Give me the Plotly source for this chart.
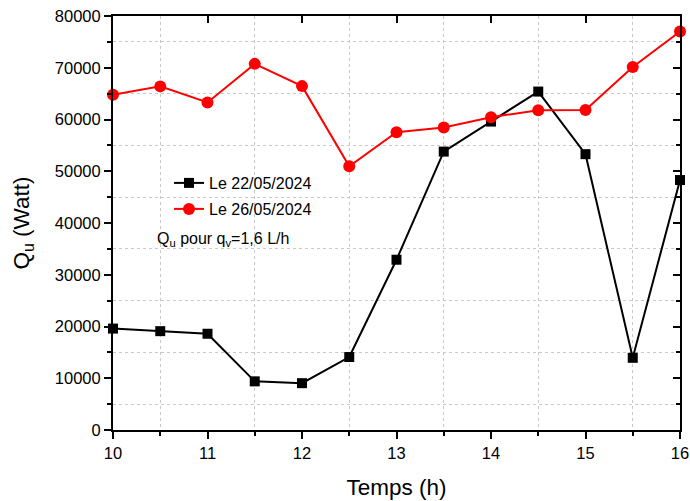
import plotly.graph_objects as go

hours = [10, 10.5, 11, 11.5, 12, 12.5, 13, 13.5, 14, 14.5, 15, 15.5, 16]
q_2205 = [19600, 19100, 18600, 9400, 9050, 14100, 32900, 53800, 59600, 65400, 53300, 13950, 48300]
q_2605 = [64800, 66400, 63300, 70750, 66450, 50950, 57550, 58450, 60450, 61800, 61850, 70150, 77000]
name_2205 = "Le 22/05/2024"
name_2605 = "Le 26/05/2024"
note = "Q<sub>u</sub> pour q<sub>v</sub>=1,6 L/h"
x_title = "Temps (h)"
y_title = "Q<sub>u</sub> (Watt)"

FONT = "Liberation Sans, Arial, sans-serif"
W, H = 690, 501
ML, MR, MT, MB = 113, 10, 16, 71
PW, PH = W - ML - MR, H - MT - MB


def px_x(p):
    return (p - ML) / PW


def px_y(p):
    return (H - MB - p) / PH


fig = go.Figure()
fig.add_trace(go.Scatter(
    x=hours, y=q_2205, name=name_2205, mode="lines+markers",
    line=dict(color="black", width=2),
    marker=dict(symbol="square", size=10, color="black"),
    legend="legend", cliponaxis=False,
))
fig.add_trace(go.Scatter(
    x=hours, y=q_2605, name=name_2605, mode="lines+markers",
    line=dict(color="#ff0000", width=2),
    marker=dict(symbol="circle", size=12, color="#ff0000"),
    legend="legend2", cliponaxis=False,
))
# invisible trace to anchor mirror axes
fig.add_trace(go.Scatter(x=[hours[0]], y=[q_2205[0]], xaxis="x2", yaxis="y2",
                         mode="markers", marker=dict(opacity=0), showlegend=False,
                         hoverinfo="skip"))

grid = dict(showgrid=True, gridcolor="#c8c8c8", griddash="dot", gridwidth=1)

fig.update_layout(
    width=W, height=H,
    margin=dict(l=ML, r=MR, t=MT, b=MB, autoexpand=False),
    paper_bgcolor="white", plot_bgcolor="white",
    font=dict(family=FONT, color="black", size=17),
    xaxis=dict(
        range=[10, 16], dtick=1, tick0=10, showgrid=False, zeroline=False,
        automargin=False,
        showline=True, linecolor="black", linewidth=2, mirror=True,
        ticks="outside", ticklen=7, tickwidth=1.5, tickcolor="black",
        tickfont=dict(size=16.5),
        minor=dict(dtick=0.5, ticks="outside", ticklen=4, tickwidth=1.5,
                   tickcolor="black", **grid),
        title=dict(text=x_title, font=dict(size=22.5), standoff=18),
    ),
    yaxis=dict(
        range=[0, 80000], dtick=10000, showgrid=False, zeroline=False,
        automargin=False, tickformat="d",
        showline=True, linecolor="black", linewidth=2, mirror=True,
        ticks="outside", ticklen=7, tickwidth=1.5, tickcolor="black",
        tickfont=dict(size=16.5),
        minor=dict(dtick=5000, ticks="outside", ticklen=4, tickwidth=1.5,
                   tickcolor="black", **grid),
        title=dict(text=y_title, font=dict(size=22.5), standoff=19),
    ),
    xaxis2=dict(
        range=[10, 16], dtick=1, overlaying="x", side="top", anchor="y2",
        showgrid=False, zeroline=False, showticklabels=False, automargin=False,
        showline=False,
        ticks="inside", ticklen=7, tickwidth=1.5, tickcolor="black",
    ),
    yaxis2=dict(
        range=[0, 80000], dtick=10000, overlaying="y", side="right", anchor="x2",
        showgrid=False, zeroline=False, showticklabels=False, automargin=False,
        showline=False,
        ticks="inside", ticklen=7, tickwidth=1.5, tickcolor="black",
        minor=dict(dtick=5000, ticks="inside", ticklen=4, tickwidth=1.5,
                   tickcolor="black", showgrid=False),
    ),
    legend=dict(x=px_x(169), y=px_y(183), xanchor="left", yanchor="middle",
                bgcolor="rgba(0,0,0,0)", font=dict(size=16), borderwidth=0),
    legend2=dict(x=px_x(169), y=px_y(209), xanchor="left", yanchor="middle",
                 bgcolor="rgba(0,0,0,0)", font=dict(size=16), borderwidth=0),
    annotations=[dict(text=note, x=px_x(155), y=px_y(240), xref="paper", yref="paper",
                      showarrow=False, font=dict(size=16), xanchor="left",
                      yanchor="middle")],
)

fig.write_html("out.html", config={"displayModeBar": False},
               post_script="document.body.style.margin='0px';")
